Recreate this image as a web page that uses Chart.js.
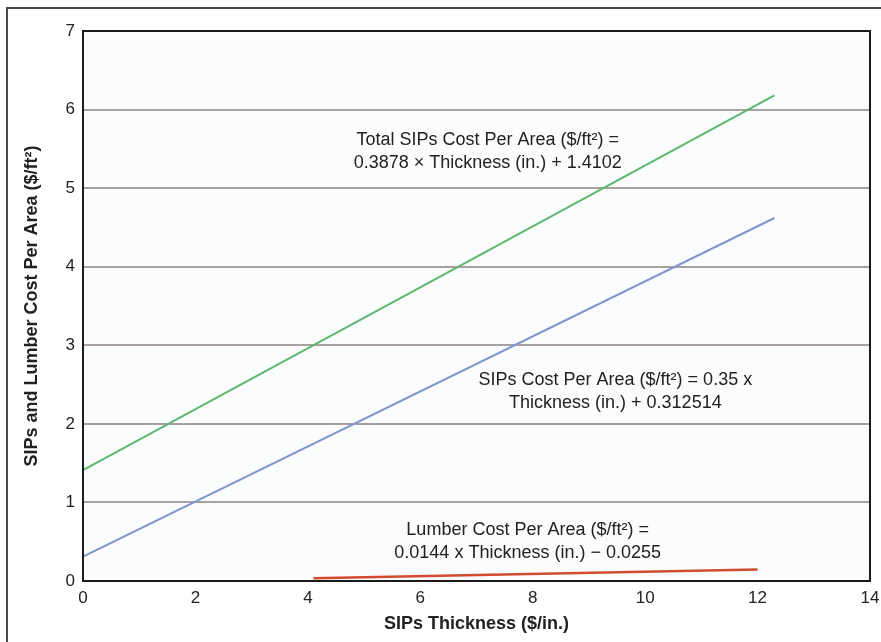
<!DOCTYPE html>
<html>
<head>
<meta charset="utf-8">
<script src="https://cdn.jsdelivr.net/npm/chart.js@4"></script>
<style>
  html, body { margin: 0; padding: 0; background: #fff; }
  #wrap { width: 881px; height: 642px; }
</style>
</head>
<body>
<div id="wrap"><canvas id="chart" width="881" height="642"></canvas></div>
<script>
// values
const xTicks = [0, 2, 4, 6, 8, 10, 12, 14]
const yTicks = [0, 1, 2, 3, 4, 5, 6, 7]

const totalX = [0, 12.3]
const totalY = [1.41, 6.18]
const sipsX = [0, 12.3]
const sipsY = [0.31, 4.62]
const lumberX = [4.1, 12.0]
const lumberY = [0.034, 0.147]

const noteLines = [
  ['Total SIPs Cost Per Area ($/ft²) =', '0.3878 × Thickness (in.) + 1.4102'],
  ['SIPs Cost Per Area ($/ft²) = 0.35 x', 'Thickness (in.) + 0.312514'],
  ['Lumber Cost Per Area ($/ft²) =', '0.0144 x Thickness (in.) − 0.0255']
]
const noteX = [7.2, 9.47, 7.91]
const noteY = [5.47, 2.41, 0.5]

const FONT = "'Liberation Sans', Arial, Helvetica, sans-serif"

const toPoints = (xs, ys) => xs.map((x, i) => ({ x, y: ys[i] }))

const frame = {
  id: 'frame',
  beforeDraw (chart) {
    const { ctx, chartArea: a } = chart
    ctx.save()
    ctx.fillStyle = '#fafcfe'
    ctx.fillRect(a.left, a.top, a.right - a.left, a.bottom - a.top)
    // outer figure border (top and left only visible)
    ctx.strokeStyle = '#4a4a4a'
    ctx.lineWidth = 2
    ctx.beginPath()
    ctx.moveTo(7, 642)
    ctx.lineTo(7, 8)
    ctx.lineTo(881, 8)
    ctx.stroke()
    ctx.restore()
  },
  afterDatasetsDraw (chart) {
    const { ctx, chartArea: a, scales } = chart
    ctx.save()
    ctx.strokeStyle = '#1a1a1a'
    ctx.lineWidth = 2
    ctx.strokeRect(a.left, a.top, a.right - a.left, a.bottom - a.top)
    ctx.fillStyle = '#222'
    ctx.font = '18px ' + FONT
    ctx.textAlign = 'center'
    ctx.textBaseline = 'middle'
    noteLines.forEach((lines, i) => {
      const cx = scales.x.getPixelForValue(noteX[i])
      const cy = scales.y.getPixelForValue(noteY[i])
      ctx.fillText(lines[0], cx, cy - 11.5)
      ctx.fillText(lines[1], cx, cy + 11.5)
    })
    ctx.restore()
  }
}

new Chart(document.getElementById('chart').getContext('2d'), {
  type: 'scatter',
  data: {
    datasets: [
      { label: 'Total', data: toPoints(totalX, totalY), borderColor: '#5db86b', borderWidth: 2, showLine: true, pointRadius: 0 },
      { label: 'SIPs', data: toPoints(sipsX, sipsY), borderColor: '#7f97cc', borderWidth: 2, showLine: true, pointRadius: 0 },
      { label: 'Lumber', data: toPoints(lumberX, lumberY), borderColor: '#d24a30', borderWidth: 2.5, showLine: true, pointRadius: 0 }
    ]
  },
  options: {
    responsive: false,
    animation: false,
    layout: { padding: { top: 31, right: 11, left: 0, bottom: 0 } },
    plugins: { legend: { display: false }, tooltip: { enabled: false } },
    scales: {
      x: {
        type: 'linear',
        min: 0,
        max: 14,
        afterFit: s => { s.height = 61 },
        afterBuildTicks: s => { s.ticks = xTicks.map(v => ({ value: v })) },
        grid: { display: false, drawTicks: true, tickLength: 7 },
        border: { display: false },
        ticks: { color: '#222', font: { family: FONT, size: 17 }, padding: 0, maxRotation: 0 },
        title: { display: true, text: 'SIPs Thickness ($/in.)', color: '#222', font: { family: FONT, size: 18, weight: 'bold' }, padding: { bottom: 7 } }
      },
      y: {
        type: 'linear',
        min: 0,
        max: 7,
        afterFit: s => { s.width = 83 },
        afterBuildTicks: s => { s.ticks = yTicks.map(v => ({ value: v })) },
        grid: {
          drawTicks: false,
          lineWidth: 2,
          color: c => (c.tick && (c.tick.value === 0 || c.tick.value === 7)) ? 'rgba(0,0,0,0)' : '#a7a19f'
        },
        border: { display: false },
        ticks: { color: '#222', font: { family: FONT, size: 17 }, padding: 8 },
        title: { display: true, text: 'SIPs and Lumber Cost Per Area ($/ft²)', color: '#222', font: { family: FONT, size: 18, weight: 'bold' }, padding: { top: 21 } }
      }
    }
  },
  plugins: [frame]
})
</script>
</body>
</html>
